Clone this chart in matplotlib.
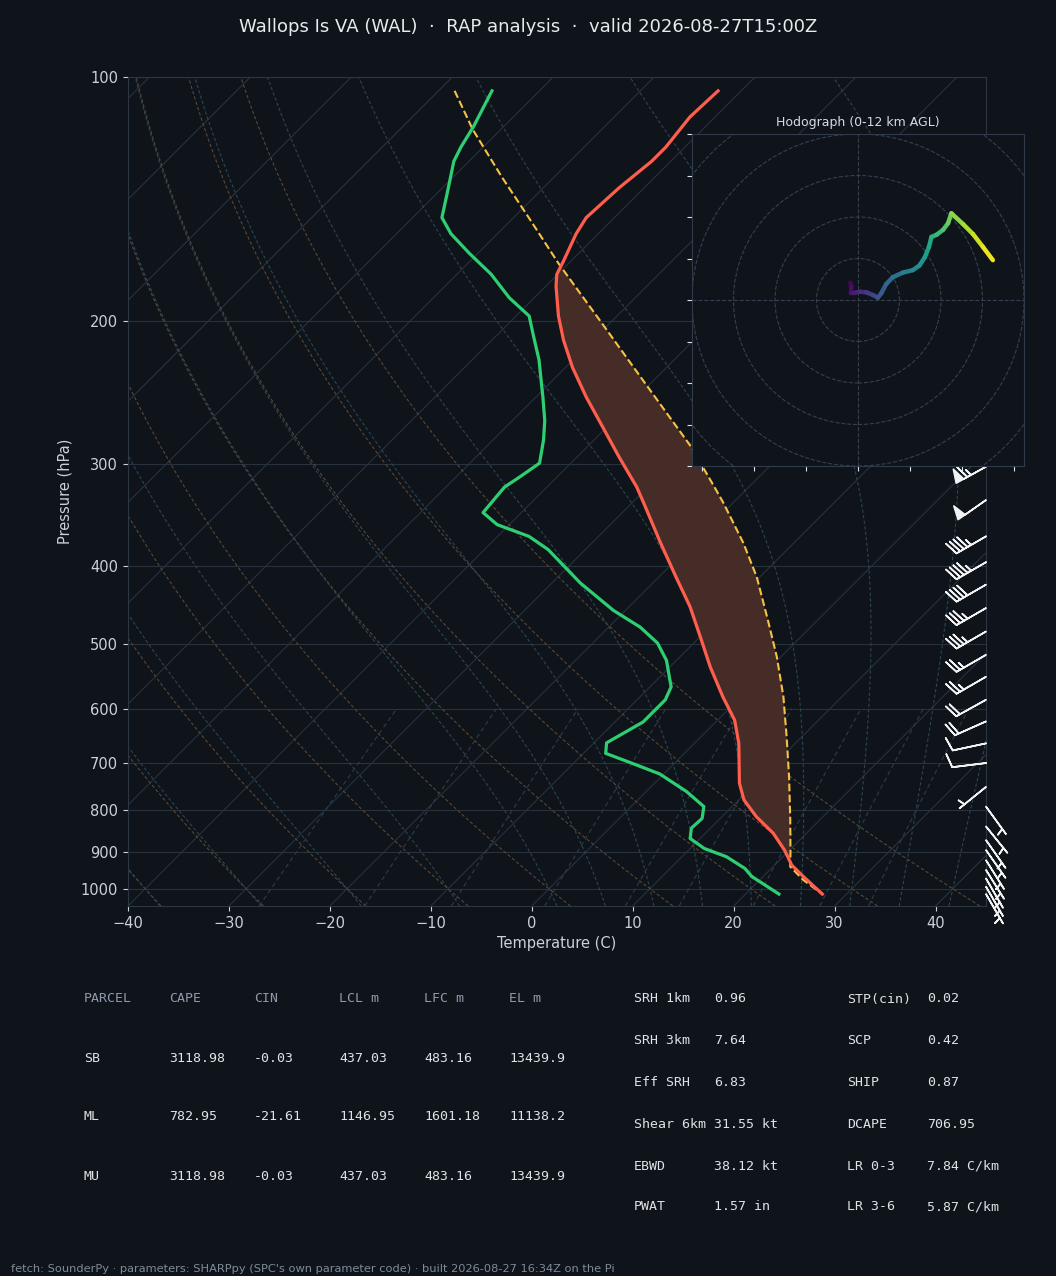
import numpy as np
import matplotlib
matplotlib.use('Agg')
import matplotlib.pyplot as plt
import matplotlib.transforms as mtransforms
from matplotlib.collections import LineCollection
from matplotlib.patches import Circle
from matplotlib.ticker import FixedLocator, NullLocator, FuncFormatter

# ---- sounding ----
p_temp = [104, 112, 122, 127, 137, 149, 156, 169, 175, 181, 197, 211, 228, 248, 270,
          294, 320, 335, 375, 413, 449, 489, 533, 580, 620, 662, 741, 777, 815, 854,
          896, 935, 966, 1015]
t_temp = [-62.3, -62.5, -61.9, -61.9, -62.5, -62.8, -62.2, -60.7, -60.1, -59.0, -55.8,
          -52.9, -49.3, -45.0, -40.4, -35.8, -31.1, -28.8, -23.2, -18.3, -14.0, -10.0,
          -6.0, -1.8, 1.7, 4.4, 8.4, 10.5, 13.4, 16.7, 19.5, 21.7, 24.0, 27.6]

p_dew = [104, 115, 122, 127, 139, 149, 156, 165, 175, 187, 197, 207, 223, 248, 265,
         280, 299, 311, 320, 344, 356, 368, 382, 420, 454, 476, 498, 523, 564, 585,
         623, 661, 681, 701, 722, 759, 792, 819, 842, 867, 892, 913, 944, 966, 1015]
t_dew = [-84.7, -83.0, -82.2, -81.5, -79.0, -77.1, -74.6, -70.8, -66.6, -62.5, -58.7,
         -56.6, -53.4, -49.3, -46.8, -45.0, -43.1, -43.7, -44.2, -43.8, -41.2, -36.9,
         -33.7, -27.2, -21.2, -16.9, -13.6, -11.0, -7.9, -7.2, -7.2, -8.75, -7.8, -4.1,
         -0.4, 4.0, 7.2, 8.2, 8.1, 9.0, 11.4, 14.4, 17.4, 18.9, 23.3]

p_parcel = [104, 116, 133, 149, 170, 201, 239, 285, 320, 335, 375, 413, 467, 518, 580,
            650, 728, 823, 904, 939, 975, 1015]
t_parcel = [-88.4, -82.8, -75.1, -68.5, -60.9, -50.8, -40.4, -29.8, -23.4, -20.9, -15.0,
            -10.3, -4.9, -0.4, 4.2, 8.5, 12.7, 17.1, 20.4, 21.7, 24.3, 27.6]

# wind barbs (kt)
barb_p = [302, 332, 368, 396, 422, 451, 482, 515, 548, 585, 622, 662, 700, 749,
          792, 838, 871, 896, 922, 948, 971, 994, 1015]
barb_dir = [241, 235, 240, 240, 240, 240, 240, 240, 240, 241, 246, 258, 263, 231,
            144, 141, 145, 145, 148, 148, 150, 150, 150]
barb_spd = [65, 50, 45, 45, 40, 35, 35, 25, 25, 20, 20, 10, 10, 5,
            5, 5, 5, 5, 5, 5, 5, 5, 5]

# hodograph
hodo_u = [-1.85, -1.6, -1.7, -0.8, 0.4, 2.0, 3.6, 4.8, 5.6, 6.8, 8.4, 10.8, 13.2, 14.8,
          16.1, 17.1, 17.7, 18.9, 20.5, 21.7, 22.5, 25.3, 27.7, 30.1, 32.5]
hodo_v = [4.17, 3.2, 1.77, 1.77, 2.0, 1.85, 1.2, 0.56, 1.6, 3.85, 5.5, 6.6, 7.2, 8.3,
          10.3, 12.8, 15.2, 15.7, 16.9, 18.5, 20.9, 18.3, 15.9, 12.8, 9.6]
hodo_z = [0, 0.3, 0.6, 0.9, 1.3, 1.8, 2.3, 2.8, 3.2, 3.7, 4.2, 4.8, 5.4, 5.9, 6.4, 6.9,
          7.4, 7.9, 8.4, 9.0, 9.6, 10.2, 10.8, 11.4, 12.0]

parcel_header = ['PARCEL', 'CAPE', 'CIN', 'LCL m', 'LFC m', 'EL m']
parcel_rows = [['SB', '3118.98', '-0.03', '437.03', '483.16', '13439.9'],
               ['ML', '782.95', '-21.61', '1146.95', '1601.18', '11138.2'],
               ['MU', '3118.98', '-0.03', '437.03', '483.16', '13439.9']]
params_left = [('SRH 1km', '0.96'), ('SRH 3km', '7.64'), ('Eff SRH', '6.83'),
               ('Shear 6km', '31.55 kt'), ('EBWD', '38.12 kt'), ('PWAT', '1.57 in')]
params_right = [('STP(cin)', '0.02'), ('SCP', '0.42'), ('SHIP', '0.87'),
                ('DCAPE', '706.95'), ('LR 0-3', '7.84 C/km'), ('LR 3-6', '5.87 C/km')]

title = 'Wallops Is VA (WAL)  ·  RAP analysis  ·  valid 2026-08-27T15:00Z'
footer = ("fetch: SounderPy · parameters: SHARPpy (SPC's own parameter code) · "
          "built 2026-08-27 16:34Z on the Pi")

BG = '#0f141b'
GRID = '#28323e'
TXT = '#c9d1d9'

W, H = 1056, 1276
fig = plt.figure(figsize=(W / 100, H / 100), dpi=100, facecolor=BG)

ax_l, ax_r, ax_t, ax_b = 128, 986, 77, 906
ax = fig.add_axes([ax_l / W, (H - ax_b) / H, (ax_r - ax_l) / W, (ax_b - ax_t) / H],
                  facecolor=BG)
ax.set_yscale('log')
ax.set_xlim(-40, 45)
ax.set_ylim(1050, 100)

# skew x in axes space so isotherms run at 45 deg on screen
shear = (ax_b - ax_t) / (ax_r - ax_l)
skew = (ax.transScale + ax.transLimits
        + mtransforms.Affine2D().skew(np.arctan(shear), 0) + ax.transAxes)

# ---- background lines ----
pp = np.geomspace(1050, 100, 300)
for t in range(-120, 50, 10):
    ax.plot([t, t], [1050, 100], color=GRID, lw=0.8, transform=skew, zorder=1)

for t0 in np.arange(-40, 46, 10):
    tk = (t0 + 273.15) * (pp / 1000.0) ** 0.2857 - 273.15
    ax.plot(tk, pp, color='#5a4733', lw=0.8, ls='--', dashes=(3, 2), transform=skew,
            zorder=1)


def moist_line(t0c, pres):
    Rd, Cp, Lv, eps = 287.04, 1005.7, 2.501e6, 0.622

    def rate(t, lnp):
        p = np.exp(lnp)
        es = 6.112 * np.exp(17.67 * (t - 273.15) / (t - 29.65))
        rs = eps * es / (p - es)
        return (Rd * t + Lv * rs) / (Cp + Lv * Lv * rs * eps / (Rd * t * t))

    lnp = np.log(pres)
    i0 = np.argmin(np.abs(pres - 1000.0))
    out = np.zeros_like(pres)
    out[i0] = t0c + 273.15
    for rng in (range(i0, len(pres) - 1), range(i0, 0, -1)):
        for i in rng:
            j = i + 1 if rng.step == 1 else i - 1
            h = lnp[j] - lnp[i]
            t = out[i]
            k1 = rate(t, lnp[i])
            k2 = rate(t + h * k1 / 2, lnp[i] + h / 2)
            k3 = rate(t + h * k2 / 2, lnp[i] + h / 2)
            k4 = rate(t + h * k3, lnp[j])
            out[j] = t + h * (k1 + 2 * k2 + 2 * k3 + k4) / 6
    return out - 273.15


pm = np.concatenate([np.geomspace(1050, 1000, 10)[:-1], np.geomspace(1000, 100, 300)])
for t0 in list(range(-40, 0, 10)) + list(range(0, 46, 5)):
    ax.plot(moist_line(t0, pm), pm, color='#2b4551', lw=0.8, ls='--', dashes=(3, 2),
            transform=skew, zorder=1)

pw = np.geomspace(1050, 600, 50)
for w in [0.0004, 0.001, 0.002, 0.004, 0.007, 0.01, 0.016, 0.024, 0.032]:
    e = pw * w / (0.622 + w)
    lg = np.log(e / 6.112)
    td = 243.5 * lg / (17.67 - lg)
    ax.plot(td, pw, color='#2c3d4b', lw=0.8, ls='--', dashes=(4, 3), transform=skew,
            zorder=1)

# ---- CAPE shading ----
pp_a, tp_a = np.array(p_parcel), np.array(t_parcel)
pt_a, tt_a = np.array(p_temp), np.array(t_temp)
m1 = (pp_a >= 170) & (pp_a <= 939)
m2 = (pt_a >= 169) & (pt_a <= 935)
ax.fill(np.concatenate([tp_a[m1], tt_a[m2][::-1]]),
        np.concatenate([pp_a[m1], pt_a[m2][::-1]]),
        color='#462c26', lw=0, transform=skew, zorder=2)

# ---- profiles ----
ax.plot(t_parcel, p_parcel, color='#f7c244', lw=1.5, ls='--', transform=skew, zorder=3)
ax.plot(t_temp, p_temp, color='#ff5e4d', lw=2.3, transform=skew, zorder=4)
ax.plot(t_dew, p_dew, color='#2ecf73', lw=2.3, transform=skew, zorder=4)

# ---- wind barbs on the right edge ----
wd = np.deg2rad(barb_dir)
bu = -np.array(barb_spd) * np.sin(wd)
bv = -np.array(barb_spd) * np.cos(wd)
btr = mtransforms.blended_transform_factory(ax.transAxes, ax.transData)
ax.barbs(np.ones(len(barb_p)), barb_p, bu, bv, transform=btr, clip_on=False,
         color='#f2f2f2', length=7, linewidth=1.2, zorder=5)

ax.set_xlim(-40, 45)
ax.set_ylim(1050, 100)
ax.set_xticks(range(-40, 41, 10))
ax.yaxis.set_major_locator(FixedLocator(range(100, 1001, 100)))
ax.yaxis.set_minor_locator(NullLocator())
ax.yaxis.set_major_formatter(FuncFormatter(lambda v, _: f'{int(v)}'))
ax.yaxis.grid(True, color=GRID, lw=0.8)
ax.set_axisbelow(True)
ax.tick_params(colors=TXT, labelsize=10.5)
for s in ax.spines.values():
    s.set_color('#2c3744')
ax.set_xlabel('Temperature (C)', color=TXT, fontsize=10.5)
ax.set_ylabel('Pressure (hPa)', color=TXT, fontsize=10.5, labelpad=6)

# ---- hodograph inset ----
hx0, hx1, hy0, hy1 = 692, 1024, 134, 466
hax = fig.add_axes([hx0 / W, (H - hy1) / H, (hx1 - hx0) / W, (hy1 - hy0) / H],
                   facecolor=BG)
hax.set_xlim(-40, 40)
hax.set_ylim(-40, 40)
for r in [10, 20, 30, 40, 50]:
    hax.add_patch(Circle((0, 0), r, fill=False, ls='--', ec='#344050', lw=0.8))
hax.axhline(0, color='#344050', ls='--', lw=0.8)
hax.axvline(0, color='#344050', ls='--', lw=0.8)
pts = np.array([hodo_u, hodo_v]).T.reshape(-1, 1, 2)
segs = np.concatenate([pts[:-1], pts[1:]], axis=1)
hz = np.array(hodo_z)
lc = LineCollection(segs, cmap='viridis', norm=plt.Normalize(0, 12), linewidth=3.2,
                    capstyle='round')
lc.set_array((hz[:-1] + hz[1:]) / 2)
hax.add_collection(lc)
hax.set_xticks(np.arange(-37.5, 38, 12.5))
hax.set_yticks(range(-40, 41, 10))
hax.tick_params(labelbottom=False, labelleft=False, colors='#dde3ea', length=3.5)
for s in hax.spines.values():
    s.set_color('#2f3b4a')
hax.set_title('Hodograph (0-12 km AGL)', color='#d5dbe2', fontsize=9, pad=6)

# ---- text ----
fig.text(0.5, 1 - 27 / H, title, ha='center', va='center', fontsize=13, color='#e6ebf0')

mono = 'DejaVu Sans Mono'
col_x = [84, 169, 254, 339, 424, 509]
for x, s in zip(col_x, parcel_header):
    fig.text(x / W, 1 - 999 / H, s, family=mono, fontsize=9.5, color='#8d9aab',
             va='center')
for row, y in zip(parcel_rows, [1058, 1117, 1176]):
    for x, s in zip(col_x, row):
        fig.text(x / W, 1 - y / H, s, family=mono, fontsize=9.5, color='#dfe3e8',
                 va='center')

for (la, va), (lb, vb), y in zip(params_left, params_right,
                                 [999, 1041, 1083, 1124, 1166, 1207]):
    for x, s in [(634, la), (714, va), (847, lb), (927, vb)]:
        fig.text(x / W, 1 - y / H, s, family=mono, fontsize=9.5, color='#dfe3e8',
                 va='center')

fig.text(11 / W, 1 - 1269 / H, footer, fontsize=8.2, color='#7f8b99', va='center')

fig.savefig('out.png', dpi=100, facecolor=BG)
